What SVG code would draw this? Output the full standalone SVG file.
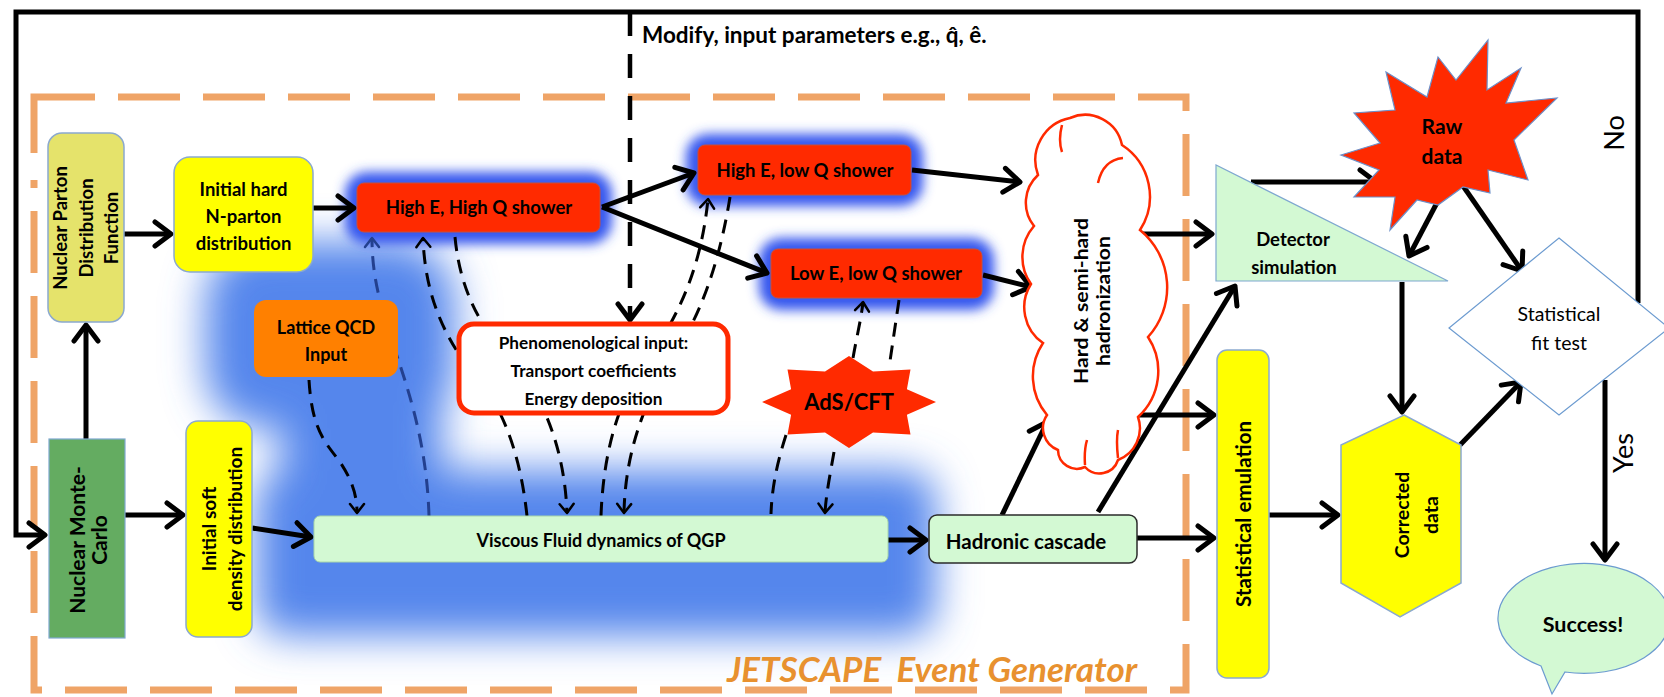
<svg xmlns="http://www.w3.org/2000/svg" width="1664" height="697" viewBox="0 0 1664 697">
<style>
.t{font-family:Lato,"Liberation Sans",sans-serif;font-weight:700;fill:#000;text-anchor:middle}
.rg{font-family:Lato,"Liberation Sans",sans-serif;font-weight:400;fill:#000;text-anchor:middle}
.arr{fill:none;stroke:#000;stroke-width:5;marker-end:url(#ah)}
.dsh{fill:none;stroke:#000;stroke-width:3;stroke-dasharray:14 9}
.dsha{fill:none;stroke:#000;stroke-width:3;stroke-dasharray:14 9;marker-end:url(#sah)}
.red{fill:#FF2A00;stroke:#C8503C;stroke-width:1}
.yel{fill:#FFFF00;stroke:#8BA9CF;stroke-width:1.5}
.grn{fill:#D3F9D3;stroke:#7FA8D0;stroke-width:1.2}
.glow{fill:#3557EE;filter:url(#glow)}
.bg{fill:#5486EC}
</style>
<defs>
<marker id="ah" markerUnits="userSpaceOnUse" viewBox="-20 -15 25 30" markerWidth="25" markerHeight="30" refX="0" refY="0" orient="auto">
<path d="M-16,-12 L0,0 L-16,12" fill="none" stroke="#000" stroke-width="5" stroke-linecap="round" stroke-linejoin="round"/>
</marker>
<marker id="sah" markerUnits="userSpaceOnUse" viewBox="-12 -10 15 20" markerWidth="15" markerHeight="20" refX="0" refY="0" orient="auto">
<path d="M-9,-7 L0,0 L-9,7" fill="none" stroke="#000" stroke-width="2.5" stroke-linecap="round" stroke-linejoin="round"/>
</marker>
<marker id="sahb" markerUnits="userSpaceOnUse" viewBox="-12 -10 15 20" markerWidth="15" markerHeight="20" refX="0" refY="0" orient="auto">
<path d="M-9,-7 L0,0 L-9,7" fill="none" stroke="#23408F" stroke-width="2.5" stroke-linecap="round" stroke-linejoin="round"/>
</marker>
<filter id="glow" x="-30%" y="-80%" width="160%" height="260%"><feGaussianBlur stdDeviation="6"/></filter>
<filter id="big" x="-30%" y="-30%" width="160%" height="160%"><feGaussianBlur stdDeviation="20"/></filter>
</defs>

<rect x="0" y="0" width="1664" height="697" fill="#fff"/>

<!-- background glows -->
<g id="glows">
<g filter="url(#big)">
<rect x="205" y="242" width="250" height="186" rx="60" class="bg"/>
<rect x="282" y="380" width="160" height="120" class="bg"/>
<rect x="256" y="470" width="680" height="166" rx="30" class="bg"/>
</g>
<rect x="345" y="172" width="267" height="72" rx="22" class="glow"/>
<rect x="686" y="134" width="237" height="72" rx="22" class="glow"/>
<rect x="759" y="238" width="235" height="72" rx="22" class="glow"/>
</g>

<!-- JETSCAPE frame -->
<g id="frame">
<path d="M34,153 V97 H95" fill="none" stroke="#EFA467" stroke-width="7"/>
<path d="M118,97 H1186 V690 H34 V180" fill="none" stroke="#EFA467" stroke-width="7" stroke-dasharray="62 23"/>
</g>

<!-- connectors -->
<g id="connectors">
<path class="arr" stroke-width="4.5" d="M1638,303 V12 H16 V535 H45"/>
<path fill="none" stroke="#000" stroke-width="4.5" stroke-dasharray="24 18" marker-end="url(#ah)" d="M630,12 V320"/>
<path class="arr" d="M124,234 H171"/>
<path class="arr" d="M86,439 V325"/>
<path class="arr" d="M125,515 H183"/>
<path class="arr" d="M252,528 L311,537"/>
<path class="arr" d="M313,208 H354"/>
<path class="arr" d="M602,207 L694,173"/>
<path class="arr" d="M602,207 L767,273"/>
<path class="arr" d="M912,170 L1020,182"/>
<path class="arr" d="M983,275 L1031,287"/>
<path class="arr" d="M888,540 H926"/>
<path class="arr" d="M1002,515 L1047,422"/>
<path class="arr" stroke-width="4" d="M1098,512 L1235,286"/>
<path class="arr" d="M1138,234 H1212"/>
<path class="arr" d="M1138,415 H1214"/>
<path class="arr" d="M1137,538 H1214"/>
<path class="arr" d="M1269,515 H1338"/>
<path class="arr" d="M1251,182 H1376"/>
<path class="arr" d="M1440,197 L1409,256"/>
<path class="arr" d="M1461,183 L1522,271"/>
<path class="arr" d="M1402,282 V412"/>
<path class="arr" d="M1460,445 L1521,382"/>
<path class="arr" d="M1605,380 V560"/>
<path class="dsha" d="M309,380 C312,430 325,442 340,462 C352,480 357,495 357,513"/>
<path fill="none" stroke="#23408F" stroke-width="3" stroke-dasharray="14 9" marker-end="url(#sahb)" d="M429,516 C427,450 412,400 395,350 C382,310 372,280 372,238"/>
<path class="dsha" d="M527,516 C520,450 500,400 470,370 C440,330 425,290 423,238"/>
<path class="dsha" d="M455,237 C460,290 480,330 520,370 C550,410 565,460 567,513"/>
<path class="dsha" d="M730,197 C720,260 700,320 670,360 C640,410 625,460 624,513"/>
<path class="dsha" d="M601,516 C603,460 615,410 640,370 C670,330 700,280 708,199"/>
<path class="dsha" d="M853,358 C857,335 861,320 863,302"/>
<path class="dsh" d="M899,300 L889,368"/>
<path class="dsh" d="M786,435 C778,460 772,485 771,514"/>
<path class="dsha" d="M834,452 C830,475 826,495 825,513"/>
</g>

<g id="npdf">
<rect x="48" y="133" width="76" height="189" rx="14" fill="#E5E36B" stroke="#8BA9CF" stroke-width="1.5"/>
<g transform="translate(86,228) rotate(-90)"><text class="t" font-size="18.5"><tspan x="0" y="-19">Nuclear Parton</tspan><tspan x="0" y="6.5">Distribution</tspan><tspan x="0" y="32">Function</tspan></text></g>
</g>
<g id="nmc">
<rect x="49" y="439" width="76" height="199" fill="#64AC61" stroke="#7FA8D0" stroke-width="1.2"/>
<g transform="translate(88,540) rotate(-90)"><text class="t" font-size="21"><tspan x="0" y="-3.5">Nuclear Monte-</tspan><tspan x="0" y="18.5">Carlo</tspan></text></g>
</g>
<g id="initsoft">
<rect x="186" y="421" width="66" height="216" rx="12" class="yel"/>
<g transform="translate(222,529) rotate(-90)"><text class="t" font-size="19"><tspan x="0" y="-6">Initial soft</tspan><tspan x="0" y="20">density distribution</tspan></text></g>
</g>
<g id="inithard">
<rect x="174" y="157" width="139" height="115" rx="16" class="yel"/>
<text class="t" font-size="18.5"><tspan x="243.5" y="196">Initial hard</tspan><tspan x="243.5" y="223">N-parton</tspan><tspan x="243.5" y="250">distribution</tspan></text>
</g>
<g id="hehq">
<rect x="357" y="183" width="243" height="49" rx="7" class="red"/>
<text class="t" x="479" y="214" font-size="18.5">High E, High Q shower</text>
</g>
<g id="helq">
<rect x="698" y="145" width="213" height="50" rx="7" class="red"/>
<text class="t" x="805" y="177" font-size="18.5">High E, low Q shower</text>
</g>
<g id="lelq">
<rect x="771" y="249" width="211" height="49" rx="7" class="red"/>
<text class="t" x="876" y="280" font-size="18.5">Low E, low Q shower</text>
</g>
<g id="lattice">
<rect x="254" y="300" width="144" height="77" rx="12" fill="#FF8000"/>
<text class="t" font-size="18"><tspan x="326" y="334">Lattice QCD</tspan><tspan x="326" y="361">Input</tspan></text>
</g>
<g id="phenom">
<rect x="459" y="324" width="269" height="89" rx="15" fill="#fff" stroke="#FF2A00" stroke-width="5"/>
<text class="t" font-size="17.2"><tspan x="593.5" y="349">Phenomenological input:</tspan><tspan x="593.5" y="377">Transport coefficients</tspan><tspan x="593.5" y="405">Energy deposition</tspan></text>
</g>
<g id="ads">
<polygon fill="#FF2A00" points="936,402 906.9,389.3 910.5,369.5 873,371.4 849,356 825,371.4 787.5,369.5 791.1,389.3 762,402 791.1,414.7 787.5,434.5 825,432.6 849,448 873,432.6 910.5,434.5 906.9,414.7"/>
<text class="t" x="849" y="410" font-size="22">AdS/CFT</text>
</g>
<g id="viscous">
<rect x="314" y="516" width="574" height="46" rx="6" fill="#D3F9D3" stroke="#A9D6A9" stroke-width="1"/>
<text class="t" x="601" y="547" font-size="18">Viscous Fluid dynamics of QGP</text>
</g>
<g id="hadronic">
<rect x="929" y="515" width="208" height="48" rx="8" fill="#D3F9D3" stroke="#2B2B2B" stroke-width="1.5"/>
<text class="t" x="1026" y="549" font-size="20.5">Hadronic cascade</text>
</g>
<g id="cloud">
<path fill="#fff" stroke="#FF2A00" stroke-width="2.5" d="M1038,175 A43,43 0 0 1 1070,118 A37.6,37.6 0 0 1 1122,145 A61.5,61.5 0 0 1 1140,230 A74,74 0 0 1 1148,337 A62,62 0 0 1 1138,417 A34,34 0 0 1 1118,460 A19.5,19.5 0 0 1 1085,467 A19,19 0 0 1 1058,450 A23.5,23.5 0 0 1 1047,415 A60,60 0 0 1 1043,343 A43.5,43.5 0 0 1 1031,284 A47,47 0 0 1 1034,226 A37.5,37.5 0 0 1 1038,175 Z"/>
<path fill="none" stroke="#FF2A00" stroke-width="2.5" d="M1098,183 Q1103,160 1123,158 M1062,125 Q1058,140 1062,152 M1118,458 Q1116,440 1118,430 M1085,465 Q1084,450 1087,440"/>
<g transform="translate(1093,301) rotate(-90)">
<text class="t" font-size="19" x="0" y="-5" textLength="166" lengthAdjust="spacingAndGlyphs">Hard &amp; semi-hard</text>
<text class="t" font-size="19" x="0" y="17" textLength="130" lengthAdjust="spacingAndGlyphs">hadronization</text>
</g>
</g>
<g id="detector">
<polygon points="1216,165 1216,281 1448,281" class="grn"/>
<text class="t" font-size="18.5"><tspan x="1293" y="246">Detector</tspan><tspan x="1294" y="274">simulation</tspan></text>
</g>
<g id="rawdata">
<polygon fill="#FF2A00" stroke="#6C8FC8" stroke-width="1.2" points="1488,40 1487,90 1521,68 1506,103 1557,98 1514,140 1528,180 1488,170 1490,193 1463,187 1438,205 1417,200 1390,230 1395,197 1354,197 1379,170 1341,155 1380,143 1354,113 1395,110 1386,72 1427,97 1438,57 1456,80"/>
<text class="t" font-size="21"><tspan x="1442" y="134">Raw</tspan><tspan x="1442" y="164">data</tspan></text>
</g>
<g id="statemu">
<rect x="1217" y="350" width="52" height="328" rx="10" class="yel"/>
<g transform="translate(1244,514) rotate(-90)"><text class="t" font-size="20.5" x="0" y="7">Statistical emulation</text></g>
</g>
<g id="corrected">
<polygon points="1404,415 1461,445 1461,583 1400,617 1341,583 1341,445" class="yel"/>
<g transform="translate(1416,515) rotate(-90)"><text class="t" font-size="19.5"><tspan x="0" y="-7.5">Corrected</tspan><tspan x="0" y="22">data</tspan></text></g>
</g>
<g id="fittest">
<polygon points="1559,238 1669,328 1559,415 1449,328" fill="#fff" stroke="#6C9BD0" stroke-width="1.2"/>
<text class="rg" font-size="19.5"><tspan x="1559" y="321">Statistical</tspan><tspan x="1559" y="350">fit test</tspan></text>
</g>
<g id="success">
<path d="M1541,666 A86,55 0 1 1 1565,672 L1552,694 Z" fill="#D3F9D3" stroke="#6C9BD0" stroke-width="1.2"/>
<text class="t" x="1583" y="632" font-size="21.5">Success!</text>
</g>

<g id="labels">
<text class="t" x="642" y="43" font-size="22.5" style="text-anchor:start">Modify, input parameters e.g., q̂, ê.</text>
<g transform="translate(1614,133) rotate(-90)"><text class="rg" font-size="27" x="0" y="9.5">No</text></g>
<g transform="translate(1623,453) rotate(-90)"><text class="rg" font-size="27" x="0" y="9.5">Yes</text></g>
<text x="727" y="682" font-family="Lato,'Liberation Sans',sans-serif" font-weight="700" font-style="italic" font-size="35" fill="#E8912F" style="white-space:pre">JETSCAPE  Event Generator</text>
</g>
</svg>
